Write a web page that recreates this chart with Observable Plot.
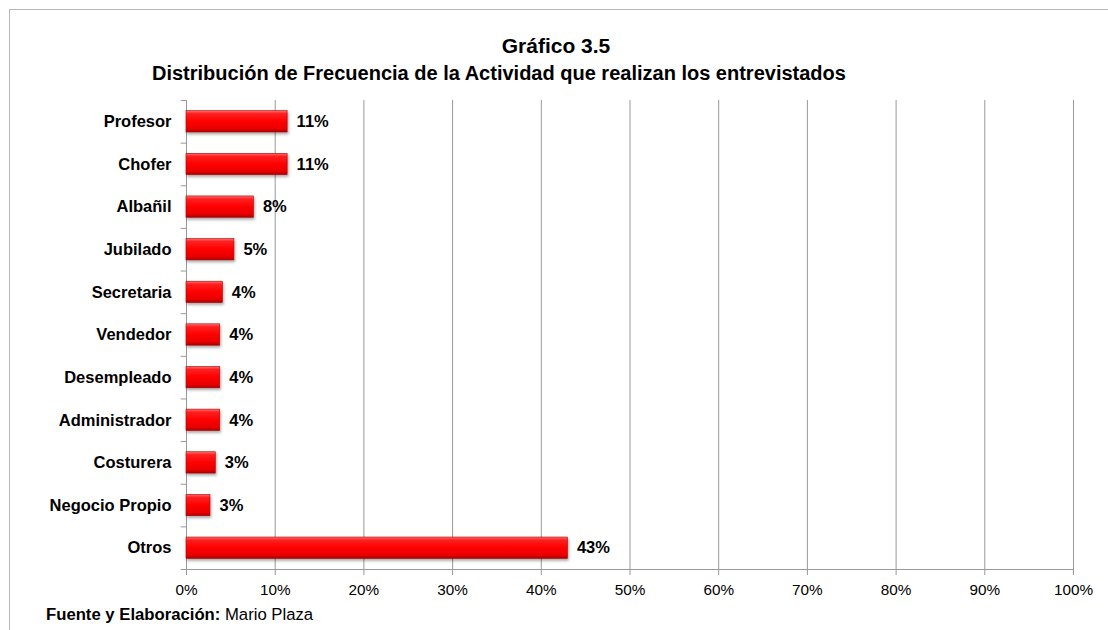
<!DOCTYPE html>
<html>
<head>
<meta charset="utf-8">
<script src="https://cdn.jsdelivr.net/npm/d3@7"></script>
<script src="https://cdn.jsdelivr.net/npm/@observablehq/plot@0.6"></script>
<style>
  html, body { margin: 0; padding: 0; background: #fff; }
  #wrap { position: relative; width: 1108px; height: 630px; overflow: hidden; font-family: Arial, "Liberation Sans", sans-serif; color: #000; }
  #frame { position: absolute; left: 9px; top: 9px; width: 1120px; height: 640px; border-top: 1.5px solid #b8b8b8; border-left: 1.5px solid #b8b8b8; }
  #title { position: absolute; left: 0; width: 1112px; top: 34px; text-align: center; font-weight: bold; font-size: 21px; line-height: 24px; }
  #subtitle { position: absolute; left: 152px; top: 61px; font-weight: bold; font-size: 20px; line-height: 24px; white-space: nowrap; }
  #chart { position: absolute; left: 0; top: 90px; }
  #footer { position: absolute; left: 46px; top: 605px; font-size: 16.7px; line-height: 20px; white-space: nowrap; }
  #chart g[aria-label="bar"] { filter: drop-shadow(1.5px 2px 1.5px rgba(0,0,0,0.35)); }
  #chart g[aria-label="x-axis tick"] { stroke: #999; }
  #chart g[aria-label="x-axis tick label"], #chart g[aria-label="x-axis tick label"] text { font-size: 15.3px; font-weight: normal; }
  #chart g[aria-label="y-axis tick label"] text, #chart g[aria-label="y-axis tick label"] { font-weight: bold; font-size: 16.5px; }
</style>
</head>
<body>
<svg width="0" height="0" style="position:absolute">
  <defs>
    <linearGradient id="barGrad" x1="0" y1="0" x2="0" y2="1">
      <stop offset="0" stop-color="#ff7070"/>
      <stop offset="0.14" stop-color="#ff2020"/>
      <stop offset="0.5" stop-color="#ff0000"/>
      <stop offset="0.85" stop-color="#e80000"/>
      <stop offset="1" stop-color="#a80000"/>
    </linearGradient>
  </defs>
</svg>
<div id="wrap">
  <div id="frame"></div>
  <div id="title">Gráfico 3.5</div>
  <div id="subtitle">Distribución de Frecuencia de la Actividad que realizan los entrevistados</div>
  <div id="chart"></div>
  <div id="footer"><b>Fuente y Elaboración:</b> Mario Plaza</div>
</div>
<script>
const categories = ["Profesor", "Chofer", "Albañil", "Jubilado", "Secretaria", "Vendedor", "Desempleado", "Administrador", "Costurera", "Negocio Propio", "Otros"];
const values = [11.4, 11.4, 7.6, 5.4, 4.1, 3.8, 3.8, 3.8, 3.3, 2.7, 43.0];
const xTicks = [0, 10, 20, 30, 40, 50, 60, 70, 80, 90, 100];

const data = categories.map((c, i) => ({cat: c, value: values[i]}));

const W = 1108, H = 520, mTop = 10, mBottom = 41, mLeft = 186, mRight = 35;
const step = (H - mTop - mBottom) / categories.length;
const grid = "#999";

const chart = Plot.plot({
  width: W,
  height: H,
  marginTop: mTop,
  marginBottom: mBottom,
  marginLeft: mLeft,
  marginRight: mRight,
  style: {fontFamily: "Arial, 'Liberation Sans', sans-serif", fontSize: "15px", color: "#000", background: "transparent"},
  x: {domain: [0, 100], ticks: xTicks, tickFormat: d => d + "%", tickSize: 6, tickPadding: 9, label: null},
  y: {domain: categories, paddingInner: 0.5, paddingOuter: 0.25, round: false, tickSize: 0, tickPadding: 15, label: null},
  marks: [
    Plot.ruleX(xTicks, {stroke: grid, strokeWidth: 1}),
    Plot.ruleY(categories, {y: d => d, x1: -0.6, x2: 0, dy: -step / 2, stroke: grid}),
    Plot.ruleY([categories[categories.length - 1]], {y: d => d, x1: -0.6, x2: 100, dy: step / 2, stroke: grid}),
    Plot.barX(data, {x: "value", y: "cat", fill: "url(#barGrad)", stroke: "#b00000", strokeWidth: 0.6}),
    Plot.text(data, {x: "value", y: "cat", text: d => Math.round(d.value) + "%", dx: 9, textAnchor: "start", fontWeight: "bold", fontSize: 16.5, fill: "#000"})
  ]
});
document.getElementById("chart").appendChild(chart);
</script>
</body>
</html>
